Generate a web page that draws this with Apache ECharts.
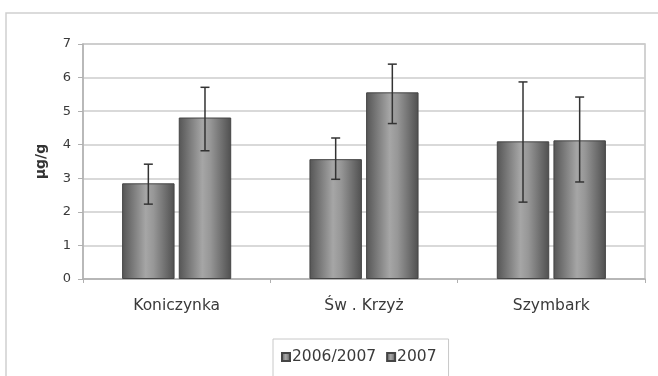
<!DOCTYPE html>
<html>
<head>
<meta charset="utf-8">
<script src="https://cdn.jsdelivr.net/npm/echarts@6/dist/echarts.min.js"></script>
<style>html,body{margin:0;padding:0;background:#fff;}#c{width:658px;height:376px;}</style>
</head>
<body>
<div id="c"></div>
<script>
const categories = ['Koniczynka', 'Św . Krzyż', 'Szymbark'];
const seriesNames = ['2006/2007', '2007'];
const values2006 = [2.85, 3.57, 4.10];
const values2007 = [4.81, 5.56, 4.13];
const err2006Low = [2.23, 2.97, 2.29];
const err2006High = [3.42, 4.20, 5.87];
const err2007Low = [3.82, 4.63, 2.89];
const err2007High = [5.71, 6.40, 5.42];
const yTicks = [0, 1, 2, 3, 4, 5, 6, 7];

const BAR_W = 0.28, BAR_GAP = 0.08;
const barGrad = {
  type: 'linear', x: 0, y: 0, x2: 1, y2: 0,
  colorStops: [
    {offset: 0, color: '#555555'},
    {offset: 0.45, color: '#a6a6a6'},
    {offset: 0.6, color: '#979797'},
    {offset: 1, color: '#4f4f4f'}
  ]
};

function errSeries(low, high, side) {
  return {
    type: 'custom',
    silent: true,
    z: 5,
    data: categories.map((c, i) => [i, low[i], high[i]]),
    renderItem: function (params, api) {
      const band = api.size([1, 0])[0];
      const off = side * band * BAR_W * (1 + BAR_GAP) / 2;
      const lo = api.coord([api.value(0), api.value(1)]);
      const hi = api.coord([api.value(0), api.value(2)]);
      const x = lo[0] + off;
      const cap = 4.5;
      const st = {stroke: '#333', lineWidth: 1.5};
      return {
        type: 'group',
        children: [
          {type: 'line', shape: {x1: x, y1: lo[1], x2: x, y2: hi[1]}, style: st},
          {type: 'line', shape: {x1: x - cap, y1: hi[1], x2: x + cap, y2: hi[1]}, style: st},
          {type: 'line', shape: {x1: x - cap, y1: lo[1], x2: x + cap, y2: lo[1]}, style: st}
        ]
      };
    }
  };
}

const chart = echarts.init(document.getElementById('c'));
chart.setOption({
  animation: false,
  textStyle: {fontFamily: 'DejaVu Sans, Liberation Sans, sans-serif'},
  graphic: [{
    type: 'rect', shape: {x: 6, y: 13, width: 700, height: 400},
    style: {fill: 'none', stroke: '#cfcfcf', lineWidth: 1.5}, silent: true
  }],
  grid: {left: 83, top: 44, right: 13, bottom: 97, show: true, borderColor: '#c4c4c4', borderWidth: 1.5, backgroundColor: 'transparent'},
  legend: {
    top: 339, left: 273,
    data: seriesNames,
    icon: 'rect', itemWidth: 8, itemHeight: 8, itemGap: 10,
    borderColor: '#c8c8c8', borderWidth: 1, padding: [10, 12, 12, 8],
    textStyle: {fontSize: 15.5, color: '#3a3a3a', padding: [0, 0, 0, -3]}
  },
  xAxis: {
    type: 'category', data: categories,
    axisLine: {lineStyle: {color: '#b0b0b0', width: 1.5}},
    axisTick: {show: true, length: 4, lineStyle: {color: '#b0b0b0'}},
    axisLabel: {fontSize: 15.5, color: '#3a3a3a', margin: 19}
  },
  yAxis: {
    type: 'value', min: yTicks[0], max: yTicks[yTicks.length - 1], interval: 1,
    name: 'µg/g', nameLocation: 'middle', nameGap: 35, nameRotate: 90,
    nameTextStyle: {fontSize: 14, fontWeight: 'bold', color: '#333'},
    axisLine: {show: true, lineStyle: {color: '#b0b0b0', width: 1.5}},
    axisTick: {show: true, length: 5, lineStyle: {color: '#b0b0b0'}},
    axisLabel: {fontSize: 13, color: '#3a3a3a', margin: 12},
    splitLine: {lineStyle: {color: '#cccccc', width: 1.5}}
  },
  series: [
    {name: seriesNames[0], type: 'bar', data: values2006, barWidth: (BAR_W * 100) + '%', barGap: (BAR_GAP * 100) + '%',
     itemStyle: {color: barGrad, borderColor: '#454545', borderWidth: 1}},
    {name: seriesNames[1], type: 'bar', data: values2007, barWidth: (BAR_W * 100) + '%',
     itemStyle: {color: barGrad, borderColor: '#454545', borderWidth: 1}},
    errSeries(err2006Low, err2006High, -1),
    errSeries(err2007Low, err2007High, 1)
  ]
});
</script>
</body>
</html>
